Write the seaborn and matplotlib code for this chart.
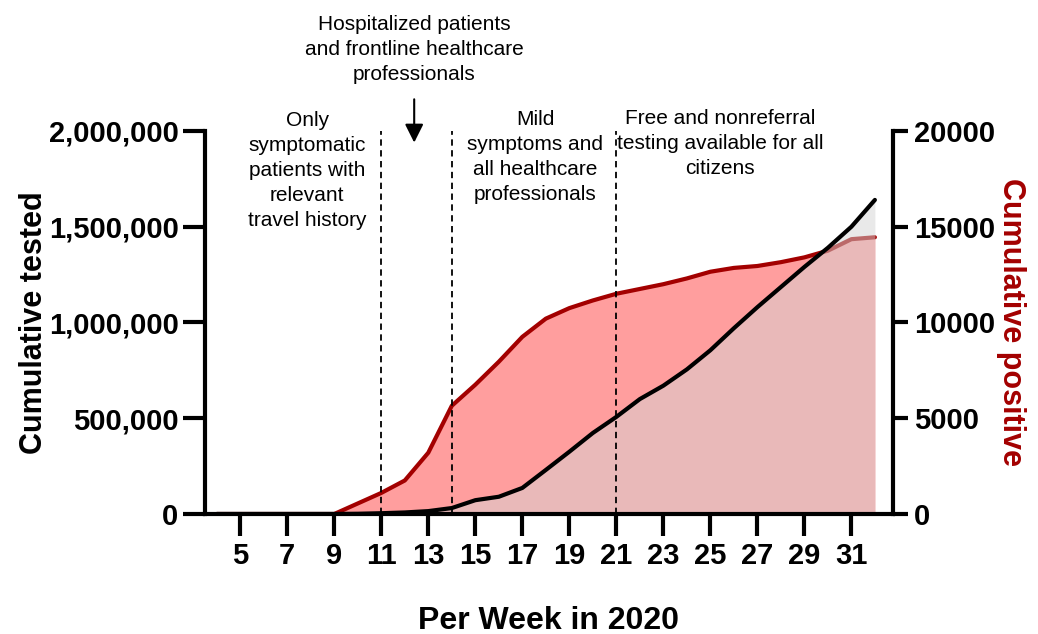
import seaborn as sns
import matplotlib.pyplot as plt
import pandas as pd
from matplotlib.ticker import FuncFormatter

# Data
weeks = list(range(4, 33))
cum_tested = [0, 0, 0, 0, 0, 0, 1000, 4000, 8000, 15000, 31000, 72000, 90000, 136000,
              230000, 325000, 423000, 507000, 600000, 670000, 755000, 855000, 970000,
              1080000, 1185000, 1290000, 1390000, 1500000, 1640000]
cum_positive = [0, 0, 0, 0, 0, 0, 550, 1100, 1750, 3200, 5650, 6750, 7950, 9250,
                10200, 10750, 11150, 11500, 11750, 12000, 12300, 12650, 12850, 12950,
                13150, 13400, 13750, 14350, 14450]
phase_weeks = [11, 14, 21]
x_ticks = list(range(5, 33, 2))
left_ticks = [0, 500000, 1000000, 1500000, 2000000]
right_ticks = [0, 5000, 10000, 15000, 20000]

df = pd.DataFrame({'week': weeks, 'tested': cum_tested, 'positive': cum_positive})

sns.set_style('ticks')
plt.rcParams['font.family'] = ['Liberation Sans', 'DejaVu Sans']
for k in ('text.color', 'axes.labelcolor', 'xtick.color', 'ytick.color', 'axes.edgecolor'):
    plt.rcParams[k] = 'black'

red_line = '#A30000'
red_fill = '#FF9E9E'

fig = plt.figure(figsize=(10.38, 6.34), dpi=100)
ax = fig.add_axes([0.1975, 0.1893, 0.6628, 0.6041])
ax2 = ax.twinx()

# positive on the right axis, drawn underneath
ax2.fill_between(df['week'], 0, df['positive'], color=red_fill, lw=0)
sns.lineplot(data=df, x='week', y='positive', ax=ax2, color=red_line, linewidth=3)

# tested on the left axis, drawn on top
ax.set_zorder(ax2.get_zorder() + 1)
ax.patch.set_visible(False)
ax.fill_between(df['week'], 0, df['tested'], color='#D4D4D4', alpha=0.5, lw=0)
sns.lineplot(data=df, x='week', y='tested', ax=ax, color='black', linewidth=3)

for wk in phase_weeks:
    ax.plot([wk, wk], [0, 2000000], color='black', lw=1.3, ls=(0, (3.5, 2.5)))

ax.set_xlim(3.5, 32.77)
ax.set_ylim(0, 2000000)
ax2.set_ylim(0, 20000)
ax.set_xticks(x_ticks)
ax.set_yticks(left_ticks)
ax2.set_yticks(right_ticks)
ax.yaxis.set_major_formatter(FuncFormatter(lambda v, p: f'{v:,.0f}'))
ax2.yaxis.set_major_formatter(FuncFormatter(lambda v, p: f'{v:.0f}'))

for a in (ax, ax2):
    a.spines['top'].set_visible(False)
    for s in ('left', 'right', 'bottom'):
        a.spines[s].set_linewidth(3)
    for lab in a.get_yticklabels() + a.get_xticklabels():
        lab.set_fontweight('bold')
ax.tick_params(length=16, width=3, labelsize=21, pad=4)
ax.tick_params(axis='y', pad=3)
ax2.tick_params(length=11, width=3, labelsize=21, pad=4)
ax.spines['right'].set_visible(False)
ax2.spines['left'].set_visible(False)
ax2.spines['bottom'].set_visible(False)

ax.set_xlabel('Per Week in 2020', fontsize=23, fontweight='bold', labelpad=26)
ax.set_ylabel('Cumulative tested', fontsize=22, fontweight='bold', labelpad=0)
ax2.set_ylabel('Cumulative positive', fontsize=22, fontweight='bold', color=red_line,
               rotation=270, labelpad=22)

# phase annotations
txt = dict(ha='center', va='center', fontsize=15, linespacing=1.4, clip_on=False)
ax.text(7.85, 1795000, 'Only\nsymptomatic\npatients with\nrelevant\ntravel history', **txt)
ax.text(17.55, 1865000, 'Mild\nsymptoms and\nall healthcare\nprofessionals', **txt)
ax.text(25.4, 1935000, 'Free and nonreferral\ntesting available for all\ncitizens', **txt)
ax.text(12.4, 2425000, 'Hospitalized patients\nand frontline healthcare\nprofessionals', **txt)
ax.annotate('', xy=(12.4, 1925000), xytext=(12.4, 2180000), annotation_clip=False,
            arrowprops=dict(arrowstyle='-|>', color='black', lw=1.5, mutation_scale=28))

fig.savefig('out.png', dpi=100)
